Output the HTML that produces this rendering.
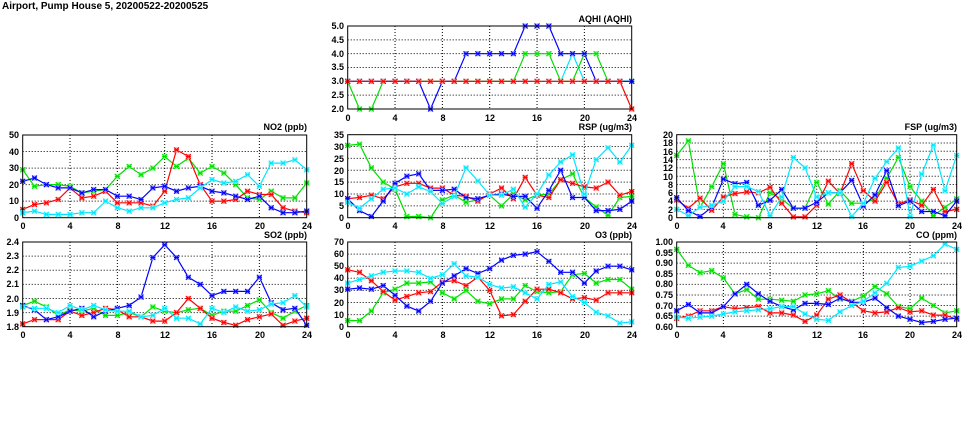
<!DOCTYPE html>
<html><head><meta charset="utf-8"><style>
body{margin:0;background:#fff;width:975px;height:447px;overflow:hidden}
svg{display:block}
text{font-family:"Liberation Sans",sans-serif;font-weight:bold;font-size:9px;fill:#000}
.yl{text-anchor:end}
.xl{text-anchor:middle}
.tt{text-anchor:end}
</style></head><body>
<svg id="s" width="975" height="447" xmlns="http://www.w3.org/2000/svg">
<text x="2" y="9" style="font-size:10px">Airport, Pump House 5, 20200522-20200525</text>
<g id="g"></g>
<!-- AQHI -->
<text class="tt" x="632" y="22">AQHI (AQHI)</text>
<text class="yl" x="344" y="29">5.0</text><text class="yl" x="344" y="43">4.5</text><text class="yl" x="344" y="57">4.0</text><text class="yl" x="344" y="70">3.5</text><text class="yl" x="344" y="84">3.0</text><text class="yl" x="344" y="98">2.5</text><text class="yl" x="344" y="112">2.0</text>
<text class="xl" x="348" y="121">0</text><text class="xl" x="395" y="121">4</text><text class="xl" x="443" y="121">8</text><text class="xl" x="490" y="121">12</text><text class="xl" x="537" y="121">16</text><text class="xl" x="585" y="121">20</text><text class="xl" x="632" y="121">24</text>
<!-- NO2 -->
<text class="tt" x="307" y="130">NO2 (ppb)</text>
<text class="yl" x="19" y="138">50</text><text class="yl" x="19" y="155">40</text><text class="yl" x="19" y="171">30</text><text class="yl" x="19" y="188">20</text><text class="yl" x="19" y="204">10</text><text class="yl" x="19" y="221">0</text>
<text class="xl" x="23" y="229">0</text><text class="xl" x="70" y="229">4</text><text class="xl" x="118" y="229">8</text><text class="xl" x="165" y="229">12</text><text class="xl" x="212" y="229">16</text><text class="xl" x="260" y="229">20</text><text class="xl" x="307" y="229">24</text>
<!-- RSP -->
<text class="tt" x="632" y="130">RSP (ug/m3)</text>
<text class="yl" x="344" y="138">35</text><text class="yl" x="344" y="150">30</text><text class="yl" x="344" y="162">25</text><text class="yl" x="344" y="174">20</text><text class="yl" x="344" y="185">15</text><text class="yl" x="344" y="197">10</text><text class="yl" x="344" y="209">5</text><text class="yl" x="344" y="221">0</text>
<text class="xl" x="348" y="229">0</text><text class="xl" x="395" y="229">4</text><text class="xl" x="443" y="229">8</text><text class="xl" x="490" y="229">12</text><text class="xl" x="537" y="229">16</text><text class="xl" x="585" y="229">20</text><text class="xl" x="632" y="229">24</text>
<!-- FSP -->
<text class="tt" x="957" y="130">FSP (ug/m3)</text>
<text class="yl" x="673" y="138">20</text><text class="yl" x="673" y="146">18</text><text class="yl" x="673" y="155">16</text><text class="yl" x="673" y="163">14</text><text class="yl" x="673" y="171">12</text><text class="yl" x="673" y="180">10</text><text class="yl" x="673" y="188">8</text><text class="yl" x="673" y="196">6</text><text class="yl" x="673" y="204">4</text><text class="yl" x="673" y="213">2</text><text class="yl" x="673" y="221">0</text>
<text class="xl" x="677" y="229">0</text><text class="xl" x="723" y="229">4</text><text class="xl" x="770" y="229">8</text><text class="xl" x="817" y="229">12</text><text class="xl" x="863" y="229">16</text><text class="xl" x="910" y="229">20</text><text class="xl" x="957" y="229">24</text>
<!-- SO2 -->
<text class="tt" x="307" y="238">SO2 (ppb)</text>
<text class="yl" x="19" y="245">2.4</text><text class="yl" x="19" y="259">2.3</text><text class="yl" x="19" y="273">2.2</text><text class="yl" x="19" y="287">2.1</text><text class="yl" x="19" y="302">2.0</text><text class="yl" x="19" y="316">1.9</text><text class="yl" x="19" y="330">1.8</text>
<text class="xl" x="23" y="338">0</text><text class="xl" x="70" y="338">4</text><text class="xl" x="118" y="338">8</text><text class="xl" x="165" y="338">12</text><text class="xl" x="212" y="338">16</text><text class="xl" x="260" y="338">20</text><text class="xl" x="307" y="338">24</text>
<!-- O3 -->
<text class="tt" x="632" y="238">O3 (ppb)</text>
<text class="yl" x="344" y="245">70</text><text class="yl" x="344" y="257">60</text><text class="yl" x="344" y="269">50</text><text class="yl" x="344" y="281">40</text><text class="yl" x="344" y="293">30</text><text class="yl" x="344" y="306">20</text><text class="yl" x="344" y="318">10</text><text class="yl" x="344" y="330">0</text>
<text class="xl" x="348" y="338">0</text><text class="xl" x="395" y="338">4</text><text class="xl" x="443" y="338">8</text><text class="xl" x="490" y="338">12</text><text class="xl" x="537" y="338">16</text><text class="xl" x="585" y="338">20</text><text class="xl" x="632" y="338">24</text>
<!-- CO -->
<text class="tt" x="957" y="238">CO (ppm)</text>
<text class="yl" x="673" y="245">1.00</text><text class="yl" x="673" y="256">0.95</text><text class="yl" x="673" y="266">0.90</text><text class="yl" x="673" y="277">0.85</text><text class="yl" x="673" y="287">0.80</text><text class="yl" x="673" y="298">0.75</text><text class="yl" x="673" y="309">0.70</text><text class="yl" x="673" y="319">0.65</text><text class="yl" x="673" y="330">0.60</text>
<text class="xl" x="677" y="338">0</text><text class="xl" x="723" y="338">4</text><text class="xl" x="770" y="338">8</text><text class="xl" x="817" y="338">12</text><text class="xl" x="863" y="338">16</text><text class="xl" x="910" y="338">20</text><text class="xl" x="957" y="338">24</text>
</svg>
<script>
var NS="http://www.w3.org/2000/svg",G=document.getElementById("g");
function el(t,a){var e=document.createElementNS(NS,t);for(var k in a)e.setAttribute(k,a[k]);G.appendChild(e);return e;}
var C={g:["#00dd00","#88ff88"],r:["#ff0000","#ff9999"],b:["#0000ff","#9999ff"],c:["#00e5ff","#99ffff"]};
var P=[
 {x0:347.7,x1:631.7,y0:26,y1:109,mn:2,mx:5,st:0.5,ord:["c","g","b","r"],d:{
  g:[3,2,2,3,3,3,3,3,3,3,3,3,3,3,3,4,4,4,3,3,4,4,3,3,3],
  r:[3,3,3,3,3,3,3,3,3,3,3,3,3,3,3,3,3,3,3,3,3,3,3,3,2],
  b:[3,3,3,3,3,3,3,2,3,3,4,4,4,4,4,5,5,5,4,4,4,3,3,3,3],
  c:[3,3,3,3,3,3,3,3,3,3,3,3,3,3,3,3,3,3,3,4,3,3,3,3,3]}},
 {x0:22.7,x1:306.7,y0:135,y1:217.7,mn:0,mx:50,st:10,ord:["g","r","b","c"],d:{
  g:[29,19,20,20,19,15,16,17,25,31,26,30,37,31,36,27,31,27,20,12,11,16,12,12,21],
  r:[5,8,9,11,18,12,13,16,9,9,9,7,16,41,37,20,10,10,11,16,14,14,6,4,3],
  b:[22,24,20,18,18,15,17,17,13,13,11,18,19,16,18,19,16,15,13,11,13,6,3,3,4],
  c:[3,4,2,2,2,3,3,10,6,4,6,6,9,11,12,18,23,21,22,26,19,33,33,35,29]}},
 {x0:347.7,x1:631.7,y0:134.7,y1:217.7,mn:0,mx:35,st:5,ord:["g","r","b","c"],d:{
  g:[30.5,31,21,15,12,0.5,0.5,0,7.5,9.5,6.5,7.5,9.5,5,10,7.5,9.5,10,16,18.5,8.5,4.5,1,8.5,9],
  r:[8,8.5,9.5,8,13,14.5,14.5,12.5,12.5,9.5,9,7,10,12.5,8,17,9.5,8.5,16,14.5,13,12.5,15,9.5,11],
  b:[8,3,0.5,7,14.5,17.5,18.5,11.5,11.5,12,8.5,8,9.5,10,9,9,4,11.5,20,8.5,8.5,3,3,3.5,7],
  c:[6.5,4,8,12,12.5,10,13,11,6,9,21,15.5,9.5,9.5,12,4.5,10,18,23.5,26.5,10,24.5,29.5,23.5,30.5]}},
 {x0:676.7,x1:956.7,y0:134.7,y1:217.7,mn:0,mx:20,st:2,ord:["g","r","b","c"],d:{
  g:[15,18.5,2.5,7.5,13,0.8,0.2,0,6,4.5,2.3,2.3,8.5,3.3,6.5,3.5,3.5,4.5,9.5,14.5,7.5,4,0.5,2.5,4.5],
  r:[4.3,2.3,4.7,1.8,5,5.8,6.2,6,7.3,3.5,0.2,0.2,3,8.8,5.8,13,6.5,4,8.5,3.3,4.3,3,6.8,1.5,2],
  b:[4.8,1.7,0.3,2.5,9.3,8.2,8.5,3,4.2,6.8,2.3,2.3,3.7,6,6,9,2.8,5.5,11.3,2.9,4,1.5,1.5,0.5,4],
  c:[2,0.5,2.5,3,4,7.5,7.5,6.3,0.5,5,14.5,12,5,6,6,0.3,3.5,9.5,13.5,16.8,0.3,10.5,17.5,6.5,15]}},
 {x0:22.7,x1:306.7,y0:242,y1:326.7,mn:1.8,mx:2.4,st:0.1,ord:["g","r","b","c"],d:{
  g:[1.95,1.98,1.94,1.88,1.92,1.91,1.93,1.88,1.88,1.9,1.87,1.94,1.91,1.9,1.92,1.93,1.88,1.91,1.91,1.95,1.99,1.9,1.86,1.91,1.95],
  r:[1.82,1.85,1.85,1.85,1.91,1.88,1.9,1.93,1.92,1.87,1.87,1.84,1.84,1.9,2.0,1.93,1.86,1.83,1.81,1.85,1.87,1.89,1.81,1.84,1.86],
  b:[1.95,1.92,1.85,1.87,1.91,1.93,1.87,1.91,1.93,1.95,2.01,2.29,2.38,2.29,2.15,2.1,2.02,2.05,2.05,2.05,2.15,1.97,1.92,1.93,1.81],
  c:[1.94,1.93,1.93,1.9,1.95,1.92,1.95,1.92,1.91,1.91,1.87,1.88,1.93,1.86,1.86,1.82,1.93,1.9,1.94,1.91,1.92,1.96,1.97,2.02,1.94]}},
 {x0:347.7,x1:631.7,y0:242,y1:326.7,mn:0,mx:70,st:10,ord:["g","r","b","c"],d:{
  g:[5,5,13,28,31,36,36,37,28,23,30,21,19,23,23,34,29,28,29,43,44,36,39,39,31],
  r:[47,45,38,29,22,25,28,29,37,38,34,41,30,9,10,21,31,31,28,23,24,22,28,28,28],
  b:[31,32,31,34,26,17,13,21,36,42,48,44,48,55,59,60,62,54,45,45,36,46,50,50,47],
  c:[36,39,42,45,46,46,45,40,43,52,42,41,35,32,33,28,23,35,37,25,20,12,9,3,4]}},
 {x0:676.7,x1:956.7,y0:242,y1:326.7,mn:0.6,mx:1.0,st:0.05,ord:["g","r","b","c"],d:{
  g:[0.965,0.89,0.855,0.865,0.83,0.755,0.775,0.73,0.73,0.725,0.72,0.75,0.755,0.77,0.73,0.72,0.745,0.79,0.755,0.695,0.685,0.735,0.7,0.665,0.675],
  r:[0.64,0.65,0.675,0.675,0.695,0.685,0.69,0.695,0.665,0.665,0.655,0.625,0.655,0.73,0.75,0.715,0.675,0.665,0.67,0.69,0.67,0.675,0.655,0.655,0.635],
  b:[0.675,0.705,0.665,0.665,0.695,0.755,0.8,0.755,0.72,0.695,0.68,0.71,0.71,0.705,0.735,0.715,0.715,0.735,0.69,0.65,0.635,0.62,0.625,0.635,0.64],
  c:[0.645,0.64,0.645,0.65,0.66,0.67,0.675,0.68,0.685,0.695,0.695,0.66,0.635,0.63,0.67,0.7,0.72,0.76,0.805,0.88,0.885,0.91,0.935,0.99,0.965]}}
];
P.forEach(function(p){
 var X=function(i){return p.x0+(p.x1-p.x0)*i/24},Y=function(v){return p.y1-(p.y1-p.y0)*(v-p.mn)/(p.mx-p.mn)};
 for(var h=4;h<24;h+=4)el("line",{x1:X(h),x2:X(h),y1:p.y0,y2:p.y1,stroke:"#000","stroke-width":1,"stroke-dasharray":"1,2"});
 var n=Math.round((p.mx-p.mn)/p.st);
 for(var k=1;k<n;k++){var y=Y(p.mn+k*p.st);el("line",{x1:p.x0,x2:p.x1,y1:y,y2:y,stroke:"#000","stroke-width":1,"stroke-dasharray":"1,2"});}
 p.ord.forEach(function(s){
  var a=p.d[s],pts=a.map(function(v,i){return X(i).toFixed(1)+","+Y(v).toFixed(1)}).join(" ");
  el("polyline",{points:pts,fill:"none",stroke:C[s][0],"stroke-width":1.2});
  a.forEach(function(v,i){var x=X(i),y=Y(v);
   el("rect",{x:x-2.5,y:y-2.5,width:5,height:5,fill:C[s][1]});
   el("path",{d:"M"+(x-2.5)+" "+(y-2.5)+"L"+(x+2.5)+" "+(y+2.5)+"M"+(x+2.5)+" "+(y-2.5)+"L"+(x-2.5)+" "+(y+2.5)+"M"+(x-2.5)+" "+y+"H"+(x+2.5),stroke:C[s][0],"stroke-width":1});
  });
 });
 el("rect",{x:p.x0,y:p.y0,width:p.x1-p.x0,height:p.y1-p.y0,fill:"none",stroke:"#000","stroke-width":1});
});
</script>
</body></html>
